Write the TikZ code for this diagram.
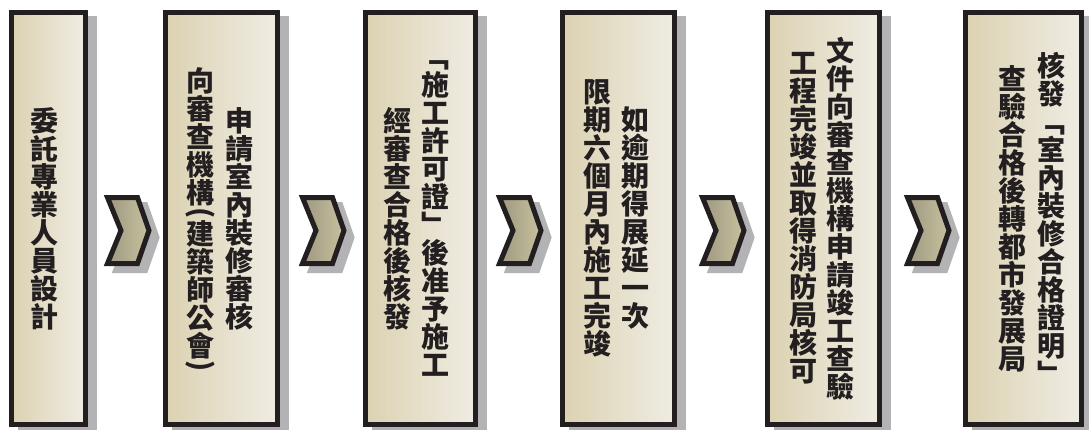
\documentclass[tikz,border=0pt]{standalone}
\usepackage{fontspec}
\newfontfamily\cjk{Noto Sans CJK TC}
\definecolor{boxline}{HTML}{231F20}
\definecolor{boxL}{HTML}{DCD2B2}
\definecolor{boxR}{HTML}{EFECE3}
\definecolor{shadowc}{HTML}{B3B3B5}
\definecolor{chevL}{HTML}{9D9980}
\definecolor{chevR}{HTML}{C8C19F}
\definecolor{textc}{HTML}{231F20}
\tikzset{
  stepbox/.style={draw=boxline, line width=5pt, left color=boxL, right color=boxR,
    minimum height=412pt, inner sep=0pt,
    preaction={draw=shadowc, fill=shadowc, line width=5pt, transform canvas={shift={(9pt,-6pt)}}}},
  chevron/.style={draw=boxline, line width=5pt, line join=miter, left color=chevL, right color=chevR,
    preaction={draw=shadowc, fill=shadowc, line width=5pt, transform canvas={shift={(8pt,-7pt)}}}},
  vtext/.style={font=\cjk\bfseries\fontsize{28pt}{28pt}\selectfont, align=center, inner sep=0pt, text=textc}
}
\begin{document}
\begin{tikzpicture}[x=1pt,y=-1pt]
\useasboundingbox (0,0) rectangle (1089,429);
\clip (0,0) rectangle (1089,429);
% boxes
\node[stepbox, minimum width=74pt]  (b1) at (48.5,218.5) {};
\node[stepbox, minimum width=112pt] (b2) at (221.5,218.5) {};
\node[stepbox, minimum width=110pt] (b3) at (420.5,218.5) {};
\node[stepbox, minimum width=112pt] (b4) at (618.5,218.5) {};
\node[stepbox, minimum width=112pt] (b5) at (823.5,218.5) {};
\node[stepbox, minimum width=116pt] (b6) at (1023.5,218.5) {};
% chevrons
\foreach \cx in {105,300,497,700,905} {
  \begin{scope}[shift={(\cx,195)}]
    \path[chevron] (2.5,2.5) -- (32.5,2.5) -- (44,35.5) -- (32.5,68.5) -- (2.5,68.5) -- (16,35.5) -- cycle;
  \end{scope}
}
% texts
\node[vtext, xshift=-4pt] (t1) at (b1.center) {委\\託\\專\\業\\人\\員\\設\\計};
\node[vtext, xshift=17.5pt] (t2a) at (b2.center) {申\\請\\室\\內\\裝\\修\\審\\核};
\node[vtext] (t2b1) at (200,137) {向\\審\\查\\機\\構};
\node[vtext] (t2p1) at (200,213) {\rotatebox{-90}{(}};
\node[vtext] (t2b2) at (200,289.5) {建\\築\\師\\公\\會};
\node[vtext] (t2p2) at (200,366) {\rotatebox{-90}{)}};
\node[vtext, xshift=14.5pt] (t3a) at (b3.center) {﹁\\施\\工\\許\\可\\證\\﹂\\後\\准\\予\\施\\工};
\node[vtext, xshift=-23.5pt] (t3b) at (b3.center) {經\\審\\查\\合\\格\\後\\核\\發};
\node[vtext, xshift=16.5pt] (t4a) at (b4.center) {如\\逾\\期\\得\\展\\延\\一\\次};
\node[vtext, xshift=-21.5pt] (t4b) at (b4.center) {限\\期\\六\\個\\月\\內\\施\\工\\完\\竣};
\node[vtext, xshift=16.5pt] (t5a) at (b5.center) {文\\件\\向\\審\\查\\機\\構\\申\\請\\竣\\工\\查\\驗};
\node[vtext, xshift=-20.5pt] (t5b) at (b5.center) {工\\程\\完\\竣\\並\\取\\得\\消\\防\\局\\核\\可};
\node[vtext, xshift=27.5pt] (t6a) at (b6.center) {核\\發\\﹁\\室\\內\\裝\\修\\合\\格\\證\\明\\﹂};
\node[vtext, xshift=-11.5pt] (t6b) at (b6.center) {查\\驗\\合\\格\\後\\轉\\都\\市\\發\\展\\局};
\end{tikzpicture}
\end{document}
